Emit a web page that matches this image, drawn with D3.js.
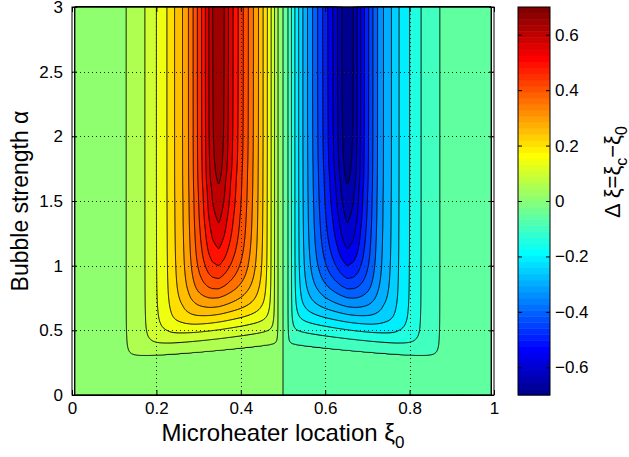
<!DOCTYPE html>
<html>
<head>
<meta charset="utf-8">
<script src="https://cdn.jsdelivr.net/npm/d3@7"></script>
<style>
  body { margin: 0; background: #fff; }
  svg { display: block; }
  text { font-family: "Liberation Sans", Arial, Helvetica, sans-serif; fill: #000; }
</style>
</head>
<body>
<div id="chart"></div>
<script>
// Δξ along the top row (α = 3) for heater positions on the left half of the channel
var topXi  = [0, 0.06, 0.129, 0.173, 0.200, 0.225, 0.243, 0.262, 0.276, 0.287, 0.297, 0.307, 0.316, 0.324, 0.333,
              0.348, 0.361, 0.371, 0.382, 0.394, 0.406, 0.418, 0.430, 0.442, 0.453, 0.463, 0.472, 0.480, 0.488, 0.5];
var topDxi = [0, 0.025, 0.05, 0.10, 0.15, 0.20, 0.25, 0.30, 0.35, 0.40, 0.45, 0.50, 0.55, 0.60, 0.65,
              0.70, 0.65, 0.60, 0.55, 0.50, 0.45, 0.40, 0.35, 0.30, 0.25, 0.20, 0.15, 0.10, 0.05, 0];

// bubble strength where each contour level bottoms out under the ridge
var bottomLevel = [0.05, 0.10, 0.15, 0.20, 0.25, 0.30, 0.35, 0.40, 0.45, 0.50, 0.55, 0.60, 0.65];
var bottomAlpha = [0.35, 0.44, 0.51, 0.57, 0.63, 0.69, 0.76, 0.83, 0.91, 1.01, 1.14, 1.34, 1.64];

// contour levels (contourf)
var levels = [-0.65, -0.60, -0.55, -0.50, -0.45, -0.40, -0.35, -0.30, -0.25, -0.20, -0.15, -0.10, -0.05, 0,
              0.05, 0.10, 0.15, 0.20, 0.25, 0.30, 0.35, 0.40, 0.45, 0.50, 0.55, 0.60, 0.65];

var xTicks = [0, 0.2, 0.4, 0.6, 0.8, 1];
var yTicks = [0, 0.5, 1, 1.5, 2, 2.5, 3];
var cbTicks = [-0.6, -0.4, -0.2, 0, 0.2, 0.4, 0.6];

var CMIN = -0.70, CMAX = 0.70;
var XI0 = 0.007, XI1 = 0.993;   // sampled range of heater positions
var K = 2.5;                    // roundness of the corner where the two limits meet
var SKEW = 0.9, RIDGE = 0.36;   // bottoms sink slightly toward the wall

var W = 629, H = 457;
var x = d3.scaleLinear().domain([0, 1]).range([72, 494]);
var y = d3.scaleLinear().domain([0, 3]).range([395, 7]);

var svg = d3.select("#chart").append("svg")
    .attr("width", W)
    .attr("height", H);

// ---- field ----
function lerp(xs, ys, v) {
    var i = Math.max(1, Math.min(xs.length - 1, d3.bisectRight(xs, v)));
    var t = (v - xs[i - 1]) / (xs[i] - xs[i - 1]);
    return ys[i - 1] + t * (ys[i] - ys[i - 1]);
}

var peak = d3.max(topDxi);
var hAlpha = [0].concat(bottomAlpha, [3]);
var hLevel = [0.015].concat(bottomLevel.map(function (c) {
    return Math.pow(Math.pow(c, -K) - Math.pow(peak, -K), -1 / K);
}), [6]);

function field(xi, a) {
    var half = Math.min(xi, 1 - xi);
    var p = lerp(topXi, topDxi, half);
    if (p <= 0) return 0;
    var h = lerp(hAlpha, hLevel, a * (1 + SKEW * (RIDGE - half)));
    var v = Math.pow(Math.pow(p, -K) + Math.pow(h, -K), -1 / K);
    return xi < 0.5 ? v : -v;
}

var nx = 422, ny = 388;
var values = new Float64Array(nx * ny);
for (var j = 0; j < ny; j++) {
    var a = 3 - (j + 0.5) / ny * 3;
    for (var i = 0; i < nx; i++) {
        var xi = XI0 + (i + 0.5) / nx * (XI1 - XI0);
        values[i + j * nx] = field(xi, a);
    }
}

// ---- jet colormap, 64 rows ----
function jet(r) {
    var red = r <= 24 ? 0 : r <= 40 ? (r - 24) / 16 : r <= 56 ? 1 : 1 - (r - 56) / 16;
    var green = r <= 8 ? 0 : r <= 24 ? (r - 8) / 16 : r <= 40 ? 1 : r <= 56 ? 1 - (r - 40) / 16 : 0;
    var blue = r <= 8 ? 0.5 + r / 16 : r <= 24 ? 1 : r <= 40 ? 1 - (r - 24) / 16 : 0;
    return d3.rgb(red * 255, green * 255, blue * 255).formatHex();
}
function levelColor(v) {
    var r = Math.floor((v - CMIN) / (CMAX - CMIN) * 64 + 1e-9) + 1;
    return jet(Math.max(1, Math.min(64, r)));
}

// grid coords -> pixels
var gx = d3.scaleLinear().domain([0, nx]).range([x(XI0), x(XI1)]);
var gy = d3.scaleLinear().domain([0, ny]).range([y(3), y(0)]);
var path = d3.geoPath(d3.geoTransform({
    point: function (px, py) { this.stream.point(gx(px), gy(py)); }
}));

var plot = svg.append("g");

// lowest band first
plot.append("rect")
    .attr("x", gx(0)).attr("y", gy(0))
    .attr("width", gx(nx) - gx(0)).attr("height", gy(ny) - gy(0))
    .attr("fill", levelColor(d3.min(values)))
    .attr("stroke", "#000").attr("stroke-width", 1);

var contours = d3.contours().size([nx, ny]).thresholds(levels)(values);

plot.selectAll("path.band")
    .data(contours)
    .enter().append("path")
    .attr("class", "band")
    .attr("d", path)
    .attr("fill", function (d) { return levelColor(d.value); })
    .attr("stroke", "#000")
    .attr("stroke-width", 1)
    .attr("stroke-linejoin", "round");

// dotted grid on top
var grid = svg.append("g")
    .attr("stroke", "#222")
    .attr("stroke-width", 1)
    .attr("stroke-dasharray", "1,3");
grid.selectAll("line.gx")
    .data(xTicks.slice(1, -1))
    .enter().append("line")
    .attr("x1", function (d) { return Math.round(x(d)) + 0.5; })
    .attr("x2", function (d) { return Math.round(x(d)) + 0.5; })
    .attr("y1", y(0)).attr("y2", y(3));
grid.selectAll("line.gy")
    .data(yTicks.slice(1, -1))
    .enter().append("line")
    .attr("y1", function (d) { return Math.round(y(d)) + 0.5; })
    .attr("y2", function (d) { return Math.round(y(d)) + 0.5; })
    .attr("x1", x(0)).attr("x2", x(1));

// axes, ticks pointing inward
var fmt = d3.format("~g");
function styleAxis(g) {
    g.select(".domain").remove();
    g.selectAll("text").style("font-size", "17px");
    g.attr("font-family", null);
}
svg.append("g")
    .attr("transform", "translate(0," + y(0) + ")")
    .call(d3.axisBottom(x).tickValues(xTicks).tickFormat(fmt).tickSize(-5).tickPadding(7))
    .call(styleAxis);
svg.append("g")
    .attr("transform", "translate(0," + y(3) + ")")
    .call(d3.axisTop(x).tickValues(xTicks).tickFormat("").tickSize(-5))
    .call(styleAxis);
svg.append("g")
    .attr("transform", "translate(" + x(0) + ",0)")
    .call(d3.axisLeft(y).tickValues(yTicks).tickFormat(fmt).tickSize(-5).tickPadding(9))
    .call(styleAxis);
svg.append("g")
    .attr("transform", "translate(" + x(1) + ",0)")
    .call(d3.axisRight(y).tickValues(yTicks).tickFormat("").tickSize(-5))
    .call(styleAxis);

svg.append("rect")
    .attr("x", x(0)).attr("y", y(3))
    .attr("width", x(1) - x(0)).attr("height", y(0) - y(3))
    .attr("fill", "none").attr("stroke", "#000").attr("stroke-width", 1);

// axis titles
var xl = svg.append("text")
    .attr("x", x(0.5)).attr("y", 441)
    .attr("text-anchor", "middle")
    .style("font-size", "24px");
xl.append("tspan").text("Microheater location ξ");
xl.append("tspan").attr("dy", 7).style("font-size", "17px").text("0");

svg.append("text")
    .attr("transform", "translate(28," + y(1.5) + ") rotate(-90)")
    .attr("text-anchor", "middle")
    .style("font-size", "23px")
    .text("Bubble strength α");

// ---- colorbar ----
var cbX = 518, cbW = 32;
var cb = d3.scaleLinear().domain([CMIN, CMAX]).range([395, 7]);
var step = (CMAX - CMIN) / 64;
var rows = d3.range(1, 65);
svg.append("g").selectAll("rect")
    .data(rows)
    .enter().append("rect")
    .attr("x", cbX)
    .attr("width", cbW)
    .attr("y", function (r) { return cb(CMIN + r * step); })
    .attr("height", function (r) { return cb(CMIN + (r - 1) * step) - cb(CMIN + r * step) + 0.5; })
    .attr("fill", function (r) { return jet(r); });

svg.append("g")
    .attr("transform", "translate(" + (cbX + cbW) + ",0)")
    .call(d3.axisRight(cb).tickValues(cbTicks).tickFormat(fmt).tickSize(-4).tickPadding(5))
    .call(styleAxis);
svg.append("g")
    .attr("transform", "translate(" + cbX + ",0)")
    .call(d3.axisLeft(cb).tickValues(cbTicks).tickFormat("").tickSize(-4))
    .call(styleAxis);
svg.append("rect")
    .attr("x", cbX).attr("y", cb(CMAX))
    .attr("width", cbW).attr("height", cb(CMIN) - cb(CMAX))
    .attr("fill", "none").attr("stroke", "#000").attr("stroke-width", 1);

var cl = svg.append("text")
    .attr("transform", "translate(620," + 172 + ") rotate(-90)")
    .attr("text-anchor", "middle")
    .style("font-size", "22px");
cl.append("tspan").text("Δ ξ=ξ");
cl.append("tspan").attr("dy", 7).style("font-size", "16px").text("c");
cl.append("tspan").attr("dy", -7).text("−ξ");
cl.append("tspan").attr("dy", 7).style("font-size", "16px").text("0");
</script>
</body>
</html>
